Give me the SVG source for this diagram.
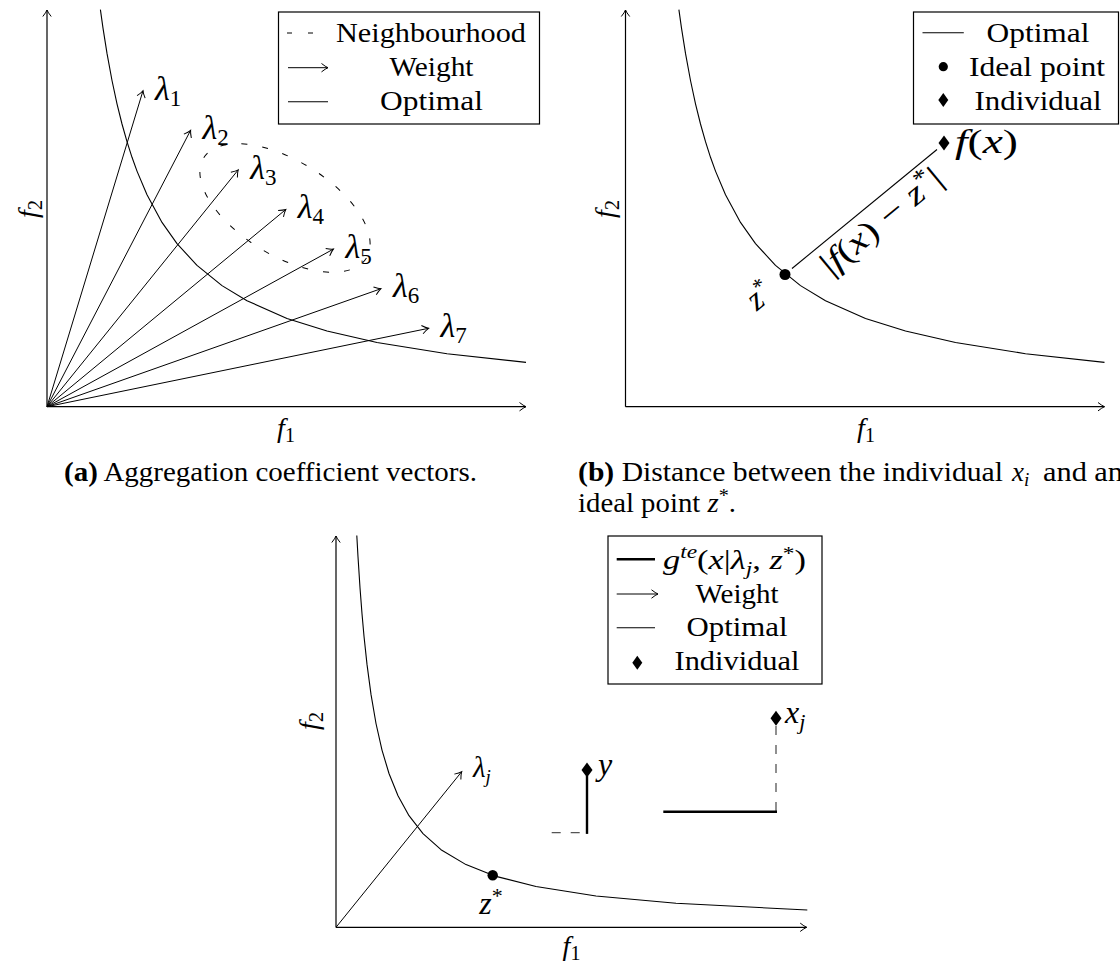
<svg xmlns="http://www.w3.org/2000/svg" width="1120" height="964" viewBox="0 0 1120 964" font-family="Liberation Serif">
<defs>
<style>
.ax{stroke:#000;stroke-width:1.2;fill:none;marker-end:url(#arr)}
.crv{stroke:#000;stroke-width:1.1;fill:none;stroke-linejoin:round}
.vec{stroke:#000;stroke-width:1;fill:none;marker-end:url(#arr)}
.box{fill:#fff;stroke:#000;stroke-width:1.2}
.thin{stroke:#000;stroke-width:1.1;fill:none}
.thick{stroke:#000;stroke-width:2.4;fill:none}
.dsh{stroke:#000;stroke-width:1;fill:none;stroke-dasharray:6 15}
.dsh2{stroke:#555;stroke-width:1.3;fill:none;stroke-dasharray:9 10}
.lg{font-size:28px}
.m{font-size:34px}
.it{font-style:italic}
.cap{font-size:27px}
</style>
<marker id="arr" viewBox="-8 -6 10 12" refX="0" refY="0" markerWidth="10" markerHeight="12" markerUnits="userSpaceOnUse" orient="auto">
<path d="M-6.5,-4.2 Q-2.5,-1 0,0 Q-2.5,1 -6.5,4.2" fill="none" stroke="#000" stroke-width="1"/>
</marker>
<path id="hypAB" d="M53.4,-397 L56,-378.6 L60,-353.3 L65,-326.2 L70,-302.9 L75,-282.7 L80,-265 L85,-249.4 L90,-235.6 L100,-212 L115,-184.3 L130,-163.1 L150,-141.3 L175,-121.1 L200,-106 L240,-88.3 L280,-75.7 L330,-64.2 L400,-53 L479,-44.3"/>
</defs>
<rect width="1120" height="964" fill="#fff"/>

<!-- ================= Panel (a) ================= -->
<g id="panel-a">
<g id="a-axes">
<line class="ax" x1="47" y1="406.7" x2="526" y2="406.7"/>
<line class="ax" x1="47" y1="406.7" x2="47" y2="10"/>
</g>
<g id="a-optimal">
<use href="#hypAB" class="crv" transform="translate(47,406.7)"/>
</g>
<g id="a-neighbourhood">
<ellipse class="dsh" cx="285" cy="208" rx="95.5" ry="47.5" transform="rotate(31.5 285 208)"/>
</g>
<g id="a-vectors">
<line class="vec" x1="47" y1="406.7" x2="143" y2="90.7"/>
<line class="vec" x1="47" y1="406.7" x2="190.6" y2="130.3"/>
<line class="vec" x1="47" y1="406.7" x2="238.2" y2="169.9"/>
<line class="vec" x1="47" y1="406.7" x2="285.8" y2="209.5"/>
<line class="vec" x1="47" y1="406.7" x2="333.4" y2="249.1"/>
<line class="vec" x1="47" y1="406.7" x2="381" y2="288.7"/>
<line class="vec" x1="47" y1="406.7" x2="428.6" y2="328.3"/>
</g>
<g id="a-lambda-labels">
<text class="m" x="155" y="100"><tspan class="it">λ</tspan><tspan font-size="23" dy="6">1</tspan></text>
<text class="m" x="202.6" y="139"><tspan class="it">λ</tspan><tspan font-size="23" dy="6">2</tspan></text>
<text class="m" x="250.2" y="178.5"><tspan class="it">λ</tspan><tspan font-size="23" dy="6">3</tspan></text>
<text class="m" x="297.8" y="218"><tspan class="it">λ</tspan><tspan font-size="23" dy="6">4</tspan></text>
<text class="m" x="345.4" y="257.5"><tspan class="it">λ</tspan><tspan font-size="23" dy="6">5</tspan></text>
<text class="m" x="393" y="297"><tspan class="it">λ</tspan><tspan font-size="23" dy="6">6</tspan></text>
<text class="m" x="440.6" y="336.5"><tspan class="it">λ</tspan><tspan font-size="23" dy="6">7</tspan></text>
</g>
<g id="a-axis-labels">
<text x="286" y="437" font-size="28" text-anchor="middle"><tspan class="it">f</tspan><tspan font-size="20" dy="5">1</tspan></text>
<text font-size="28" text-anchor="middle" transform="translate(37,209) rotate(-90)"><tspan class="it">f</tspan><tspan font-size="20" dy="5">2</tspan></text>
</g>
<g id="a-legend">
<rect class="box" x="278.5" y="12" width="261" height="112"/>
<line class="dsh" x1="287" y1="33" x2="328" y2="33" style="stroke-dasharray:5 16"/>
<line class="vec" x1="288" y1="67.7" x2="328" y2="67.7"/>
<line class="thin" x1="288" y1="101.7" x2="328" y2="101.7"/>
<text class="lg" x="431" y="42" text-anchor="middle" textLength="190" lengthAdjust="spacingAndGlyphs">Neighbourhood</text>
<text class="lg" x="431.5" y="75.5" text-anchor="middle" textLength="84" lengthAdjust="spacingAndGlyphs">Weight</text>
<text class="lg" x="431.5" y="110" text-anchor="middle" textLength="103" lengthAdjust="spacingAndGlyphs">Optimal</text>
</g>
<g id="a-caption">
<text class="cap" x="64" y="481" textLength="413" lengthAdjust="spacingAndGlyphs"><tspan font-weight="bold">(a)</tspan> Aggregation coefficient vectors.</text>
</g>
</g>

<!-- ================= Panel (b) ================= -->
<g id="panel-b">
<g id="b-axes">
<line class="ax" x1="625.5" y1="406.7" x2="1104.5" y2="406.7"/>
<line class="ax" x1="625.5" y1="406.7" x2="625.5" y2="10"/>
</g>
<g id="b-optimal">
<use href="#hypAB" class="crv" transform="translate(625.5,406.7)"/>
</g>
<g id="b-distance">
<line class="thin" x1="792" y1="268.5" x2="937" y2="149.5"/>
</g>
<g id="b-ideal-point">
<circle cx="785" cy="274.5" r="5.5" fill="#000"/>
<text font-size="33" text-anchor="middle" transform="translate(760,296.5) rotate(-39.6)" x="0" y="9.5"><tspan class="it">z</tspan><tspan font-size="22" dy="-11">*</tspan></text>
</g>
<g id="b-individual">
<path d="M944,135.5 L949.5,143 L944,150.5 L938.5,143 Z" fill="#000"/>
<text x="955" y="152.5" font-size="34" textLength="63" lengthAdjust="spacingAndGlyphs"><tspan class="it">f</tspan>(<tspan class="it">x</tspan>)</text>
</g>
<g id="b-distance-label">
<text font-size="33" text-anchor="middle" transform="translate(864.5,208.75) rotate(-39.6)" x="5" y="31" textLength="148" lengthAdjust="spacingAndGlyphs">|<tspan class="it">f</tspan>(<tspan class="it">x</tspan>) − <tspan class="it">z</tspan><tspan font-size="23" dy="-12">*</tspan><tspan dy="12">|</tspan></text>
</g>
<g id="b-axis-labels">
<text x="866" y="437" font-size="28" text-anchor="middle"><tspan class="it">f</tspan><tspan font-size="20" dy="5">1</tspan></text>
<text font-size="28" text-anchor="middle" transform="translate(614,209) rotate(-90)"><tspan class="it">f</tspan><tspan font-size="20" dy="5">2</tspan></text>
</g>
<g id="b-legend">
<rect class="box" x="913.5" y="12" width="205" height="112"/>
<line class="thin" x1="922.5" y1="32.7" x2="963.8" y2="32.7"/>
<circle cx="943.3" cy="66.7" r="4.6" fill="#000"/>
<path d="M943.3,93 L948.3,100 L943.3,107 L938.3,100 Z" fill="#000"/>
<text class="lg" x="1038" y="42" text-anchor="middle" textLength="103" lengthAdjust="spacingAndGlyphs">Optimal</text>
<text class="lg" x="1037" y="75.5" text-anchor="middle" textLength="136" lengthAdjust="spacingAndGlyphs">Ideal point</text>
<text class="lg" x="1038" y="110" text-anchor="middle" textLength="127" lengthAdjust="spacingAndGlyphs">Individual</text>
</g>
<g id="b-caption">
<text class="cap" x="578" y="481" textLength="425" lengthAdjust="spacingAndGlyphs"><tspan font-weight="bold">(b)</tspan> Distance between the individual</text>
<text class="cap" x="1012" y="481"><tspan class="it">x</tspan><tspan font-size="19" dy="5" class="it">i</tspan></text>
<text class="cap" x="1043" y="481" textLength="80" lengthAdjust="spacingAndGlyphs">and an</text>
<text class="cap" x="578" y="512" textLength="158" lengthAdjust="spacingAndGlyphs">ideal point <tspan class="it">z</tspan><tspan font-size="19" dy="-10">*</tspan><tspan dy="10">.</tspan></text>
</g>
</g>

<!-- ================= Panel (c) ================= -->
<g id="panel-c">
<g id="c-axes">
<line class="ax" x1="336" y1="927.3" x2="806.7" y2="927.3"/>
<line class="ax" x1="336" y1="927.3" x2="336" y2="536"/>
</g>
<g id="c-optimal">
<path class="crv" transform="translate(336,927.3)" d="M20.8,-391.8 L22,-370.5 L24,-339.6 L26,-313.5 L28,-291.1 L31,-262.9 L35,-232.9 L40,-203.8 L46,-177.2 L53,-153.8 L62,-131.5 L73,-111.6 L87,-93.7 L105,-77.6 L130,-62.7 L160,-50.9 L200,-40.8 L260,-31.3 L340,-24 L471.3,-17.3"/>
</g>
<g id="c-weight">
<line class="vec" x1="336" y1="927.3" x2="461.7" y2="771.7"/>
<text x="473" y="776.5" font-size="29"><tspan class="it">λ</tspan><tspan class="it" font-size="19" dy="6">j</tspan></text>
</g>
<g id="c-ideal-point">
<circle cx="492.7" cy="875.3" r="5.2" fill="#000"/>
<text x="491" y="914" font-size="32" text-anchor="middle"><tspan class="it">z</tspan><tspan font-size="22" dy="-11">*</tspan></text>
</g>
<g id="c-individual-y">
<line class="dsh2" x1="551.7" y1="832.7" x2="587" y2="832.7"/>
<line class="thick" x1="587" y1="776" x2="587" y2="833.9"/>
<path d="M587,762.5 L592.5,770 L587,777.5 L581.5,770 Z" fill="#000"/>
<text x="598" y="775" font-size="32" class="it">y</text>
</g>
<g id="c-individual-xj">
<line class="dsh2" x1="776" y1="726" x2="776" y2="811.7"/>
<line class="thick" x1="663.3" y1="811.7" x2="777" y2="811.7"/>
<path d="M776,710.8 L781.5,718.3 L776,725.8 L770.5,718.3 Z" fill="#000"/>
<text x="785" y="723" font-size="32"><tspan class="it">x</tspan><tspan class="it" font-size="22" dy="6">j</tspan></text>
</g>
<g id="c-axis-labels">
<text x="571.5" y="955" font-size="28" text-anchor="middle"><tspan class="it">f</tspan><tspan font-size="20" dy="5">1</tspan></text>
<text font-size="28" text-anchor="middle" transform="translate(318,721) rotate(-90)"><tspan class="it">f</tspan><tspan font-size="20" dy="5">2</tspan></text>
</g>
<g id="c-legend">
<rect class="box" x="608" y="536" width="214" height="148"/>
<line class="thick" x1="616.7" y1="559.3" x2="655" y2="559.3"/>
<line class="vec" x1="616.7" y1="594" x2="658" y2="594"/>
<line class="thin" x1="616.7" y1="627.7" x2="655" y2="627.7"/>
<path d="M637.3,655.7 L642.3,662.7 L637.3,669.7 L632.3,662.7 Z" fill="#000"/>
<text class="lg" x="663" y="569" textLength="143" lengthAdjust="spacingAndGlyphs"><tspan class="it">g</tspan><tspan class="it" font-size="19" dy="-11">te</tspan><tspan dy="11">(</tspan><tspan class="it">x</tspan>|<tspan class="it">λ</tspan><tspan class="it" font-size="19" dy="6">j</tspan><tspan dy="-6">, </tspan><tspan class="it">z</tspan><tspan font-size="19" dy="-9">*</tspan><tspan dy="9">)</tspan></text>
<text class="lg" x="737" y="602.5" text-anchor="middle" textLength="83" lengthAdjust="spacingAndGlyphs">Weight</text>
<text class="lg" x="737" y="636" text-anchor="middle" textLength="101" lengthAdjust="spacingAndGlyphs">Optimal</text>
<text class="lg" x="737" y="669.5" text-anchor="middle" textLength="125" lengthAdjust="spacingAndGlyphs">Individual</text>
</g>
</g>
</svg>
